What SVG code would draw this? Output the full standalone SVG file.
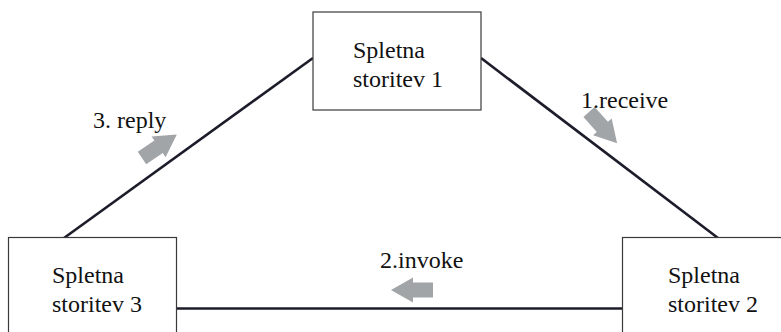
<svg xmlns="http://www.w3.org/2000/svg" width="781" height="332" viewBox="0 0 781 332">
  <style>
    .box { fill: #ffffff; stroke: #3a3a3a; stroke-width: 1.2; }
    .txt { font-family: "Liberation Serif", "Times New Roman", serif; font-size: 24px; fill: #111111; }
    .link { stroke: #1c1c2a; stroke-width: 2.6; fill: none; }
    .flow { fill: #a2a5a8; }
  </style>
  <defs>
    <!-- block arrow pointing along +x, tail at origin -->
    <polygon id="blockArrow" class="flow" points="0,-7.5 20,-7.5 20,-12.5 42,0 20,12.5 20,7.5 0,7.5"/>
  </defs>
  <rect width="781" height="332" fill="#ffffff"/>

  <g id="connectors">
    <line class="link" x1="313" y1="58" x2="64" y2="238"/>
    <line class="link" x1="481" y1="58" x2="718" y2="238"/>
    <line class="link" x1="177" y1="308.5" x2="622" y2="308.5"/>
    <use href="#blockArrow" transform="translate(589,112) rotate(48)"/>
    <use href="#blockArrow" transform="translate(142,158) rotate(-34)"/>
    <use href="#blockArrow" transform="translate(433,290) rotate(180)"/>
  </g>

  <g id="label-receive"><text class="txt" x="581" y="108">1.receive</text></g>
  <g id="label-reply"><text class="txt" x="93" y="128">3. reply</text></g>
  <g id="label-invoke"><text class="txt" x="380" y="268">2.invoke</text></g>

  <g id="service1">
    <rect class="box" x="313" y="12" width="168" height="98"/>
    <text class="txt" x="353" y="58">Spletna</text>
    <text class="txt" x="353" y="87">storitev 1</text>
  </g>

  <g id="service3">
    <rect class="box" x="8.5" y="237.5" width="168" height="110"/>
    <text class="txt" x="52" y="283">Spletna</text>
    <text class="txt" x="52" y="312">storitev 3</text>
  </g>

  <g id="service2">
    <rect class="box" x="622.5" y="237.5" width="180" height="110"/>
    <text class="txt" x="668" y="283">Spletna</text>
    <text class="txt" x="668" y="312">storitev 2</text>
  </g>
</svg>
